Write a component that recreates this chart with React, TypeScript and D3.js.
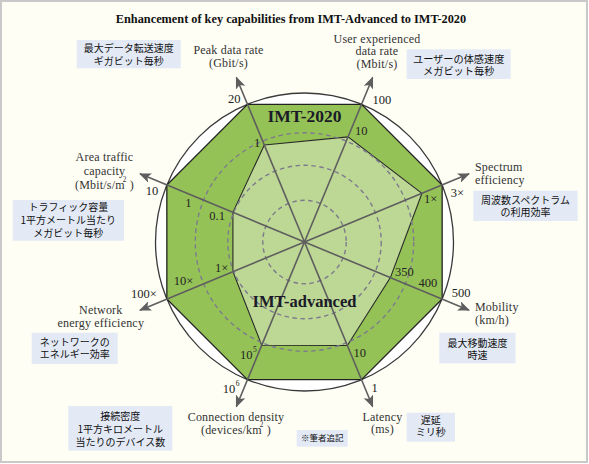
import * as d3 from 'd3';

// ---- data ----
const axisNames = [
  'Peak data rate',
  'User experienced data rate',
  'Spectrum efficiency',
  'Mobility',
  'Latency',
  'Connection density',
  'Network energy efficiency',
  'Area traffic capacity',
];
// IMT-2020 targets sit on the outer ring
const imt2020Labels = ['20', '100', '3×', '500', '1', '10^6', '100×', '10'];
const imt2020Level = [1, 1, 1, 1, 1, 1, 1, 1];
// IMT-advanced values, radial level as a fraction of the outer ring
const advancedLabels = ['1', '10', '1×', '350', '10', '10^5', '1×', '0.1'];
const advancedLevel = [0.705, 0.764, 0.853, 0.624, 0.752, 0.75, 0.52, 0.52];
// intermediate tick labels on the outer dashed ring
const midLabels = ['', '', '', '400', '', '', '10×', '1'];
const midLevel = 0.733;
const gridLevels = [0.28, 0.515, 0.733];

const titleText = 'Enhancement of key capabilities from IMT-Advanced to IMT-2020';

// ---- layout ----
const W = 589;
const H = 464;
const cx = 304.5;
const cy = 242;
const R = 149;
const arrowLevel = 1.195;
const SERIF = '"Liberation Serif", "Times New Roman", serif';
const CJK = '"Noto Sans CJK JP", "Noto Sans", sans-serif';

// tick label offsets from the axis point: [dx, dy, anchor]
type Off = [number, number, 'start' | 'end'];
const outerOff: Off[] = [
  [-7, -1, 'end'], [11, 0, 'start'], [8.5, 11.7, 'start'], [9.5, -2.3, 'start'],
  [10, 12, 'start'], [-24.8, 13.6, 'start'], [-10, -0.7, 'end'], [-8.5, 10, 'end'],
];
const innerOff: Off[] = [
  [-4, 2.5, 'end'], [7, -2, 'start'], [2, 10, 'start'], [4.6, -2, 'start'],
  [6, 11, 'start'], [-21.7, 14, 'start'], [-4.6, 0, 'end'], [-8, 7.7, 'end'],
];
const midOff: Off[] = [
  [0, 0, 'start'], [0, 0, 'start'], [0, 0, 'start'], [13, 3, 'start'],
  [0, 0, 'start'], [0, 0, 'start'], [-10.3, 1.7, 'end'], [-12, 7, 'end'],
];

// axis title blocks: x, anchor, baselines, lines
const axisTitles: { x: number; anchor: 'start' | 'middle'; ys: number[]; lines: string[] }[] = [
  { x: 228.5, anchor: 'middle', ys: [54, 66.5], lines: ['Peak data rate', '(Gbit/s)'] },
  { x: 377, anchor: 'middle', ys: [42.7, 55.2, 67.7], lines: ['User experienced', 'data rate', '(Mbit/s)'] },
  { x: 475, anchor: 'start', ys: [170.5, 183.5], lines: ['Spectrum', 'efficiency'] },
  { x: 475, anchor: 'start', ys: [310.5, 323.5], lines: ['Mobility', '(km/h)'] },
  { x: 382.5, anchor: 'middle', ys: [420.5, 432.8], lines: ['Latency', '(ms)'] },
  { x: 236, anchor: 'middle', ys: [420.5, 433.5], lines: ['Connection density', '(devices/km^2 )'] },
  { x: 100.8, anchor: 'middle', ys: [314, 326.7], lines: ['Network', 'energy efficiency'] },
  { x: 104.5, anchor: 'middle', ys: [161, 175, 189], lines: ['Area traffic', 'capacity', '(Mbit/s/m^2 )'] },
];

// Japanese note boxes
const notes: { x: number; y: number; w: number; h: number; fs: number; ys: number[]; lines: string[] }[] = [
  { x: 76.7, y: 40, w: 104, h: 28.3, fs: 10, ys: [52, 64.5], lines: ['最大データ転送速度', 'ギガビット毎秒'] },
  { x: 406.7, y: 49.3, w: 104, h: 29.7, fs: 10.2, ys: [63, 75], lines: ['ユーザーの体感速度', 'メガビット毎秒'] },
  { x: 12.7, y: 200, w: 111.3, h: 40.7, fs: 10, ys: [211.3, 224.3, 236.5], lines: ['トラフィック容量', '1平方メートル当たり', 'メガビット毎秒'] },
  { x: 473.3, y: 190.7, w: 104.3, h: 30.3, fs: 10, ys: [203.7, 216.3], lines: ['周波数スペクトラム', 'の利用効率'] },
  { x: 439.3, y: 332.7, w: 76.3, h: 30.7, fs: 10, ys: [346.8, 359], lines: ['最大移動速度', '時速'] },
  { x: 31.7, y: 332.7, w: 86, h: 31.3, fs: 10, ys: [346.3, 358], lines: ['ネットワークの', 'エネルギー効率'] },
  { x: 68.3, y: 406, w: 104, h: 44.7, fs: 10, ys: [420.3, 432.8, 445.5], lines: ['接続密度', '1平方キロメートル', '当たりのデバイス数'] },
  { x: 406.7, y: 412.7, w: 48.3, h: 29, fs: 10, ys: [424, 436.3], lines: ['遅延', 'ミリ秒'] },
  { x: 296.7, y: 430, w: 51, h: 16.7, fs: 8.5, ys: [441.3], lines: ['※筆者追記'] },
];

const rScale = d3.scaleLinear().domain([0, 1]).range([0, R]);
const aScale = d3
  .scaleLinear()
  .domain([0, axisNames.length])
  .range([-Math.PI / 8, 2 * Math.PI - Math.PI / 8]);

function pt(i: number, level: number): [number, number] {
  const a = aScale(i);
  const r = rScale(level);
  return [cx + r * Math.sin(a), cy - r * Math.cos(a)];
}

// renders "10^6" style strings with a raised exponent
function Sup({ s, fs }: { s: string; fs: number }) {
  const parts = s.split('^');
  if (parts.length === 1) return <>{s}</>;
  const tail = parts[1];
  const m = tail.match(/^(\d)(.*)$/);
  const exp = m ? m[1] : tail;
  const rest = m ? m[2] : '';
  return (
    <>
      {parts[0]}
      <tspan dx={rest ? -2 : 0.5} dy={-fs * 0.55} fontSize={fs * 0.6}>
        {exp}
      </tspan>
      {rest && <tspan dy={fs * 0.55}>{rest}</tspan>}
    </>
  );
}

function TickLabel({ i, level, text, off }: { i: number; level: number; text: string; off: Off }) {
  if (!text) return null;
  const [x, y] = pt(i, level);
  return (
    <text
      x={x + off[0]}
      y={y + off[1]}
      textAnchor={off[2]}
      fontFamily={SERIF}
      fontSize={12.5}
      fill="#222"
    >
      <Sup s={text} fs={12.5} />
    </text>
  );
}

export default function App() {
  const radial = d3
    .lineRadial<number>()
    .angle((_, i) => aScale(i))
    .radius((d) => rScale(d))
    .curve(d3.curveLinearClosed);

  return (
    <svg
      width={W}
      height={H}
      style={{ position: 'absolute', left: 0, top: 0, display: 'block' }}
    >
      <defs>
        <marker
          id="arr"
          viewBox="0 0 12 10"
          refX={11}
          refY={5}
          markerWidth={12}
          markerHeight={10}
          markerUnits="userSpaceOnUse"
          orient="auto"
        >
          <path d="M0,0 L12,5 L0,10 L3,5 Z" fill="#5e5e5e" />
        </marker>
      </defs>

      <rect x={1} y={1} width={W - 3} height={H - 3} fill="#fefef5" stroke="#c9c9c9" strokeWidth={2} />

      <text
        x={291}
        y={22.5}
        textAnchor="middle"
        fontFamily={SERIF}
        fontWeight="bold"
        fontSize={12.3}
        fill="#111"
      >
        {titleText}
      </text>

      <g transform={`translate(${cx},${cy})`}>
        <circle r={R} fill="#ffffff" stroke="#3a3a3a" strokeWidth={1.3} />
        <path d={radial(imt2020Level) ?? undefined} fill="#95c257" stroke="#222" strokeWidth={1.3} />
        <path d={radial(advancedLevel) ?? undefined} fill="#bdd795" stroke="#2a2a2a" strokeWidth={1.1} />
        {gridLevels.map((l) => (
          <circle
            key={l}
            r={rScale(l)}
            fill="none"
            stroke="#7c7c8c"
            strokeWidth={1.4}
            strokeDasharray="4.5 3.5"
          />
        ))}
      </g>

      {axisNames.map((n, i) => {
        const [x2, y2] = pt(i, arrowLevel);
        return (
          <line
            key={n}
            x1={cx}
            y1={cy}
            x2={x2}
            y2={y2}
            stroke="#5e5e5e"
            strokeWidth={1.6}
            markerEnd="url(#arr)"
          />
        );
      })}

      <text x={cx} y={121.5} textAnchor="middle" fontFamily={SERIF} fontWeight="bold" fontSize={17.5} fill="#1a1a28">
        IMT-2020
      </text>
      <text x={cx} y={306.5} textAnchor="middle" fontFamily={SERIF} fontWeight="bold" fontSize={16.5} fill="#1a1a28">
        IMT-advanced
      </text>

      {imt2020Labels.map((t, i) => (
        <TickLabel key={`o${i}`} i={i} level={imt2020Level[i]} text={t} off={outerOff[i]} />
      ))}
      {advancedLabels.map((t, i) => (
        <TickLabel key={`a${i}`} i={i} level={advancedLevel[i]} text={t} off={innerOff[i]} />
      ))}
      {midLabels.map((t, i) => (
        <TickLabel key={`m${i}`} i={i} level={midLevel} text={t} off={midOff[i]} />
      ))}

      {axisTitles.map((b, i) => (
        <g key={`t${i}`}>
          {b.lines.map((ln, j) => (
            <text
              key={j}
              x={b.x}
              y={b.ys[j]}
              textAnchor={b.anchor}
              fontFamily={SERIF}
              fontSize={12}
              letterSpacing={0.2}
              fill="#333"
            >
              <Sup s={ln} fs={12} />
            </text>
          ))}
        </g>
      ))}

      {notes.map((n, i) => (
        <g key={`n${i}`}>
          <rect x={n.x} y={n.y} width={n.w} height={n.h} fill="#e3eaf6" />
          {n.lines.map((ln, j) => (
            <text
              key={j}
              x={n.x + n.w / 2}
              y={n.ys[j]}
              textAnchor="middle"
              fontFamily={CJK}
              fontSize={n.fs}
              fill="#111"
            >
              {ln}
            </text>
          ))}
        </g>
      ))}
    </svg>
  );
}
